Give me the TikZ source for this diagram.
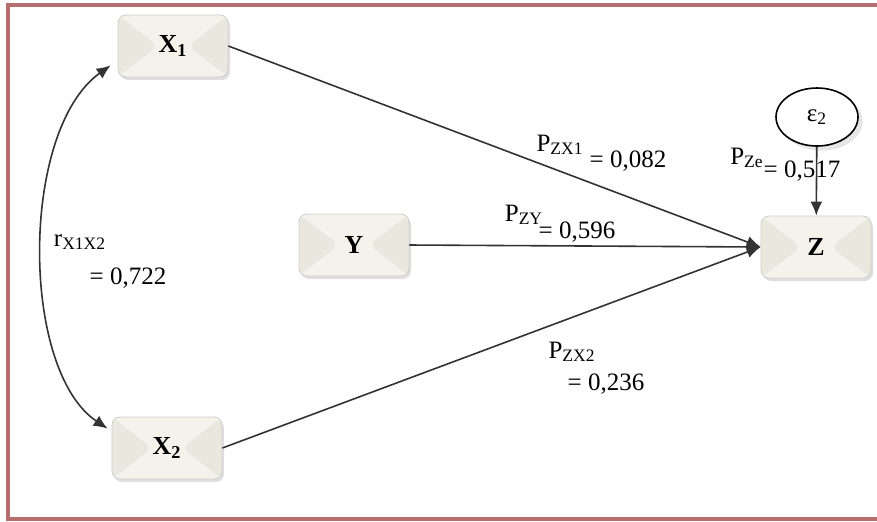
\documentclass[tikz,border=0pt]{standalone}
\usepackage{fontspec}
\setmainfont{Liberation Serif}
\usetikzlibrary{arrows.meta,shadows,shapes.geometric}
\definecolor{boxfill}{RGB}{244,242,234}
\definecolor{boxside}{RGB}{234,232,222}
\definecolor{frameline}{RGB}{180,110,110}
\tikzset{
    var/.style={draw=black!20, rounded corners=4pt, fill=boxfill,
        minimum width=55pt, minimum height=31pt, font=\bfseries\fontsize{13}{15}\selectfont,
        drop shadow={opacity=0.25, shadow xshift=1pt, shadow yshift=-1.5pt},
        path picture={
            \fill[boxside] (path picture bounding box.north west)
                -- ([xshift=20pt]path picture bounding box.west)
                -- (path picture bounding box.south west) -- cycle;
            \fill[boxside] (path picture bounding box.north east)
                -- ([xshift=-20pt]path picture bounding box.east)
                -- (path picture bounding box.south east) -- cycle;
        }},
    err/.style={ellipse, draw, thick, fill=white, minimum width=41pt, minimum height=29pt,
        font=\fontsize{12.5}{14}\selectfont, drop shadow={opacity=0.2}},
    lbl/.style={font=\fontsize{12.5}{14}\selectfont, inner sep=0pt},
    arr/.style={-{Latex[length=7pt,width=6pt]}, line width=0.8pt, black!80},
    dbl/.style={{Latex[length=7pt,width=6pt]}-{Latex[length=7pt,width=6pt]}, line width=0.8pt, black!80}
}
\begin{document}
\begin{tikzpicture}[x=0.5pt, y=-0.5pt]
            \useasboundingbox (0,0) rectangle (877,521);
            \draw[frameline, line width=2pt] (877,5) -- (8,5) -- (8,519) -- (877,519);

            \node[var] (x1) at (173, 46)  {X\textsubscript{1}};
            \node[var] (x2) at (167, 448) {X\textsubscript{2}};
            \node[var] (y)  at (354, 245) {Y};
            \node[var] (z)  at (816, 247) {Z};
            \node[err] (e2) at (817, 117) {ε\textsubscript{2}};

            \draw[arr] (x1.east) -- (z.west);
            \draw[arr] (y.east)  -- (z.west);
            \draw[arr] (x2.east) -- (z.west);
            \draw[arr] (e2) -- (z);
            \draw[dbl] ([shift={(-7,-12)}]x1.south west)
                .. controls (20,130) and (20,370) ..
                ([shift={(-4,12)}]x2.north west);

            \node[lbl] (pzx1) at (560, 145) {P\textsubscript{ZX1}};
            \node[lbl] (vzx1) at (628, 161) {= 0,082};
            \node[lbl] (pzy)  at (524, 215) {P\textsubscript{ZY}};
            \node[lbl] (vzy)  at (577, 232) {= 0,596};
            \node[lbl] (pzx2) at (572, 352) {P\textsubscript{ZX2}};
            \node[lbl] (vzx2) at (606, 384) {= 0,236};
            \node[lbl] (pze)  at (747, 158) {P\textsubscript{Ze}};
            \node[lbl] (vze)  at (802, 171) {= 0,517};
            \node[lbl] (rx)   at (80, 242)  {r\textsubscript{X1X2}};
            \node[lbl] (vrx)  at (128, 278) {= 0,722};
\end{tikzpicture}
\end{document}
